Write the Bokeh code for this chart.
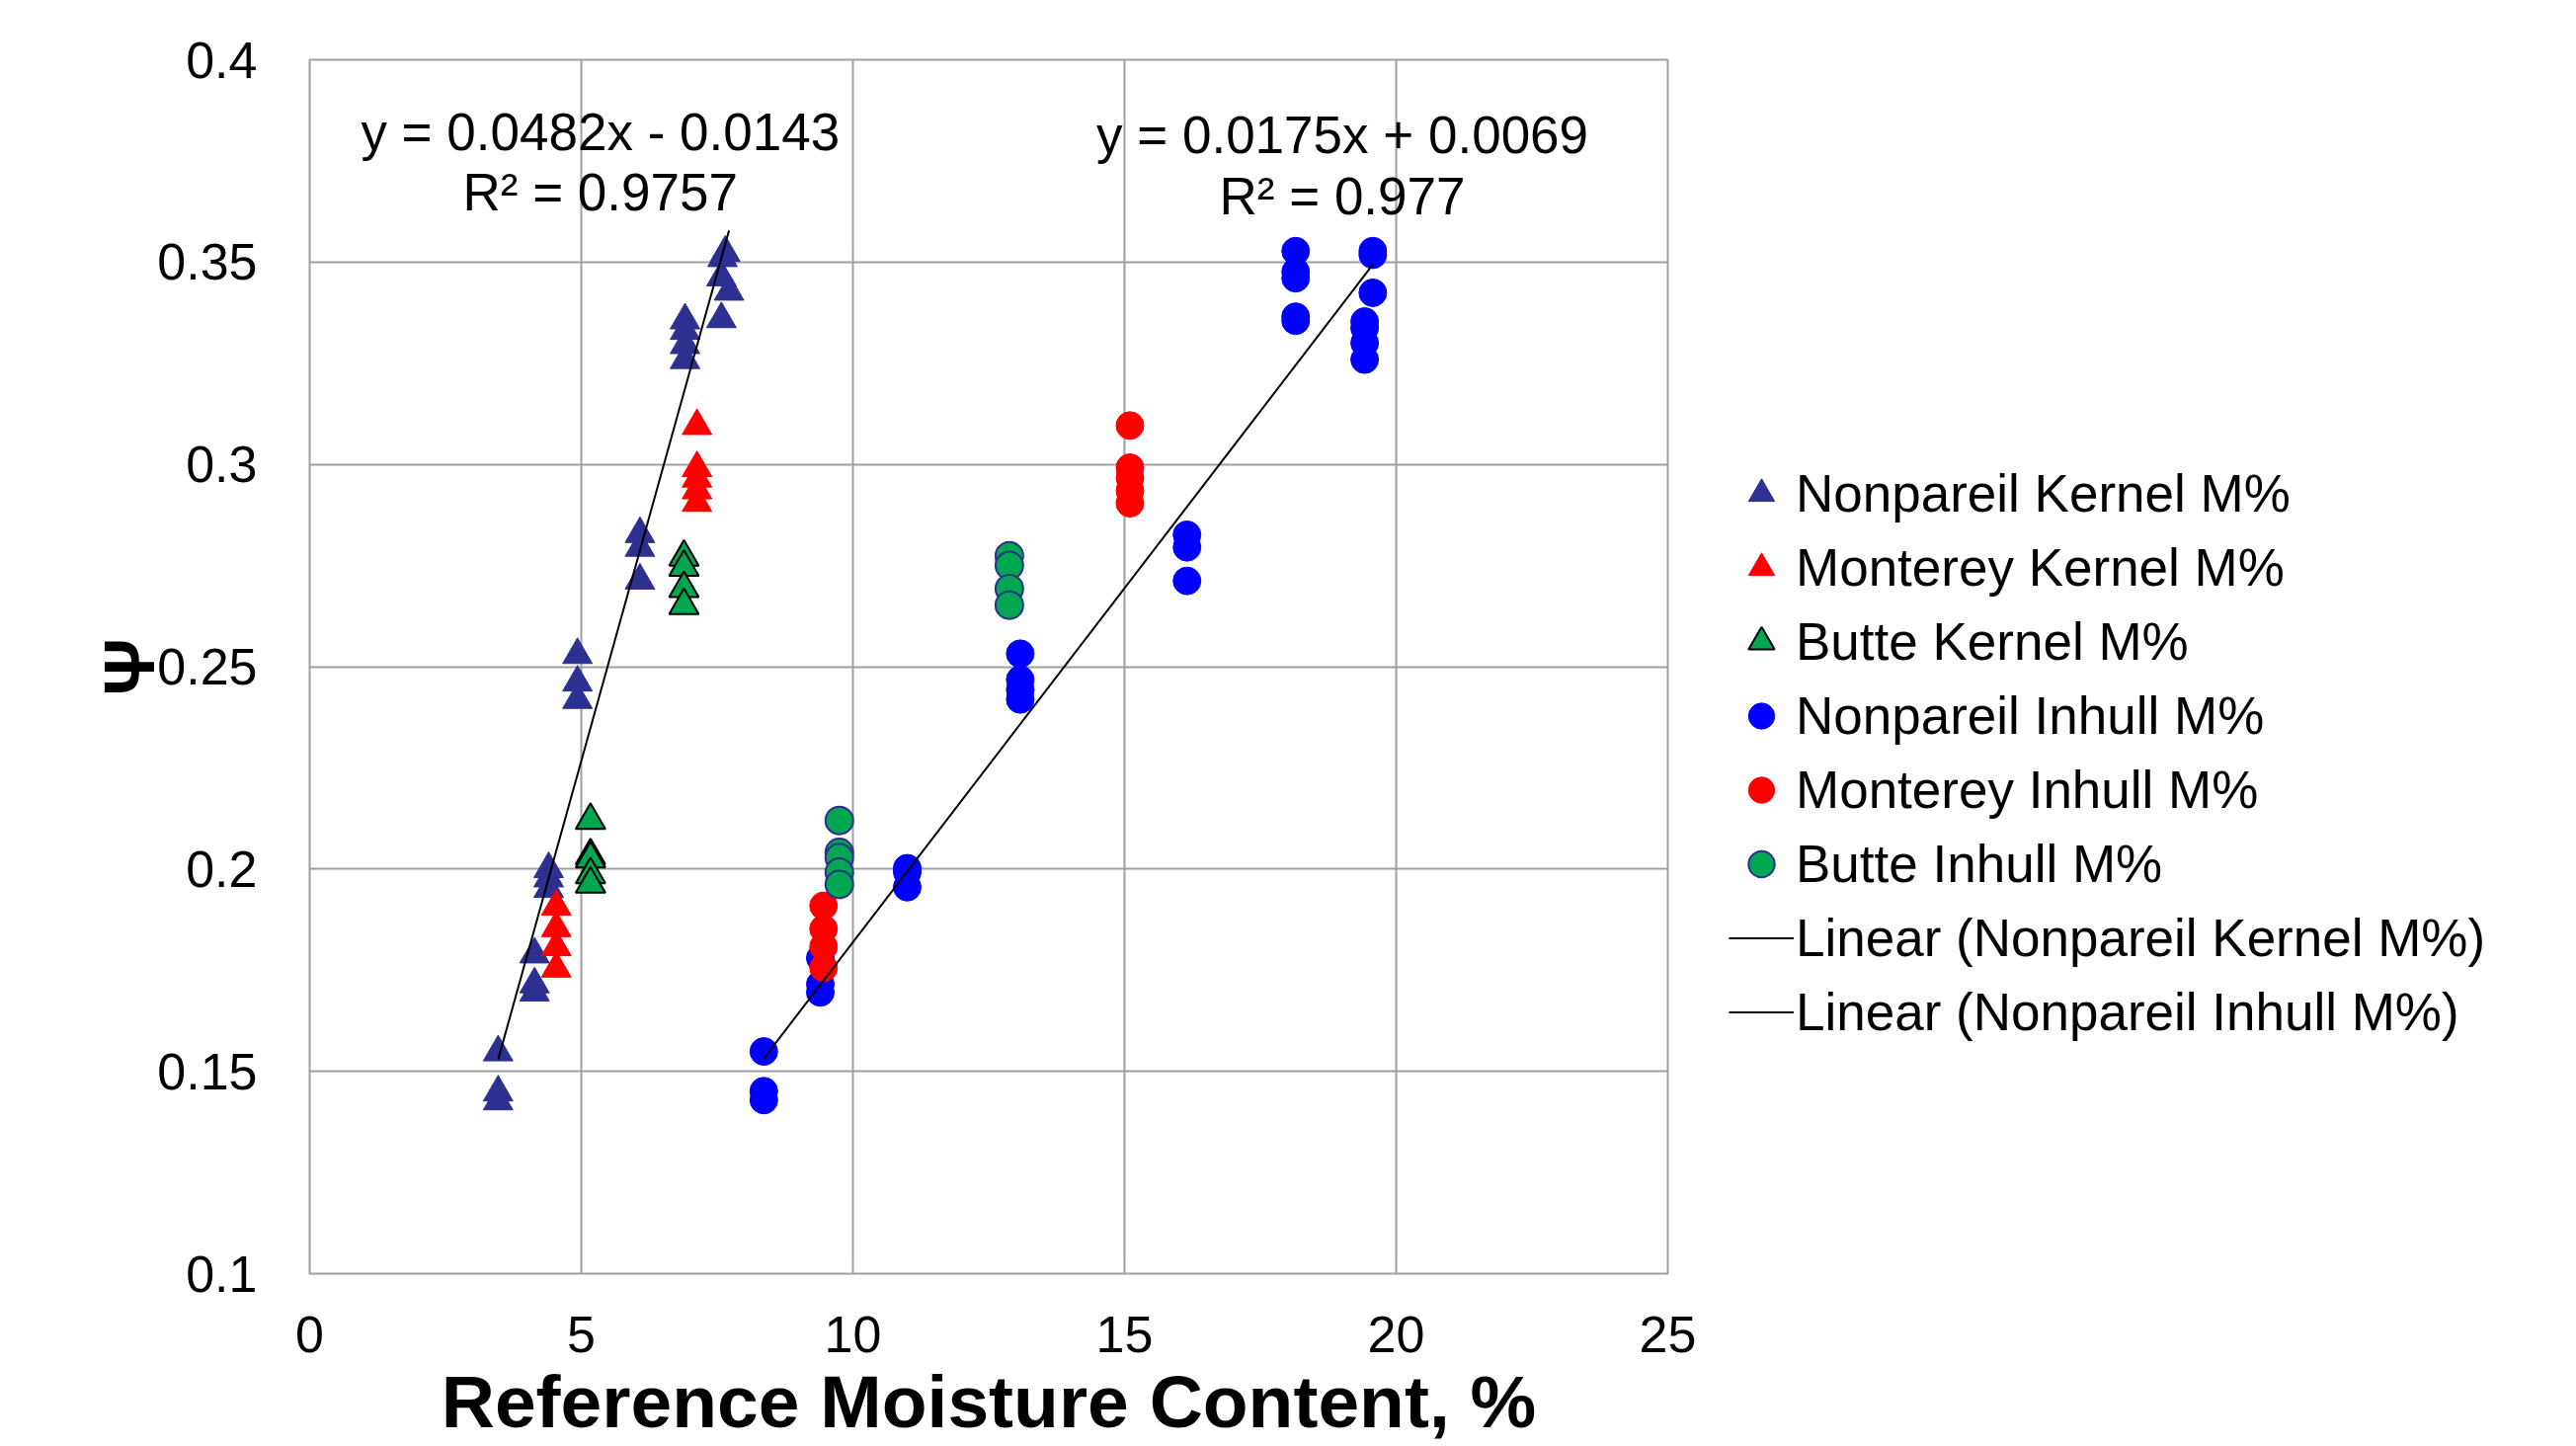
import numpy as np
from bokeh.plotting import figure
from bokeh.layouts import row
from bokeh.models import Legend, LegendItem, Label, FixedTicker
from bokeh.embed import file_html
from bokeh.resources import INLINE

# ---------------- data ----------------
npk_x = [3.47, 3.47, 3.47, 4.14, 4.14, 4.14, 4.40, 4.40, 4.40, 4.93, 4.93, 4.93,
         6.08, 6.08, 6.08, 6.91, 6.91, 6.91, 6.91, 7.65, 7.60, 7.58, 7.72, 7.58]
npk_y = [0.1547, 0.1448, 0.1426, 0.1789, 0.1715, 0.1695, 0.2000, 0.1977, 0.1951,
         0.2529, 0.2461, 0.2418, 0.2828, 0.2794, 0.2713, 0.3356, 0.3330, 0.3295,
         0.3258, 0.3523, 0.3510, 0.3462, 0.3427, 0.3359]

mok_x = [4.54, 4.54, 4.54, 4.54, 7.13, 7.13, 7.13, 7.13, 7.13]
mok_y = [0.1907, 0.1854, 0.1807, 0.1754, 0.3095, 0.2991, 0.2965, 0.2936, 0.2905]

bk_x = [5.17, 5.17, 5.17, 5.17, 5.17, 6.89, 6.89, 6.89, 6.89]
bk_y = [0.2120, 0.2033, 0.2025, 0.1986, 0.1963, 0.2771, 0.2746, 0.2693, 0.2651]

npi_x = [8.36, 8.36, 8.36, 9.40, 9.40, 9.40, 11.0, 11.0, 11.0,
         13.08, 13.08, 13.08, 13.08, 16.15, 16.15, 16.15,
         18.15, 18.15, 18.15, 18.15, 18.15, 19.57, 19.57, 19.57,
         19.42, 19.42, 19.42, 19.42]
npi_y = [0.1549, 0.1451, 0.1429, 0.1780, 0.1715, 0.1695, 0.2002, 0.1992, 0.1955,
         0.2532, 0.2468, 0.2443, 0.2419, 0.2826, 0.2795, 0.2712,
         0.3527, 0.3476, 0.3460, 0.3365, 0.3355, 0.3527, 0.3518, 0.3424,
         0.3353, 0.3337, 0.3300, 0.3259]

moi_x = [9.46, 9.46, 9.46, 9.46, 15.1, 15.1, 15.1, 15.1, 15.1]
moi_y = [0.1909, 0.1852, 0.1808, 0.1756, 0.3096, 0.2992, 0.2967, 0.2935, 0.2904]

bi_x = [9.75, 9.75, 9.75, 9.75, 9.75, 12.88, 12.88, 12.88, 12.88]
bi_y = [0.2120, 0.2041, 0.2028, 0.1992, 0.1962, 0.2774, 0.2750, 0.2693, 0.2652]

# trend line coefficients (from chart annotations)
k_slope, k_icpt, k_r2 = 0.0482, -0.0143, "0.9757"
i_slope, i_icpt, i_r2 = 0.0175, 0.0069, "0.977"

x_ticks = [0, 5, 10, 15, 20, 25]
y_ticks = [0.1, 0.15, 0.2, 0.25, 0.3, 0.35, 0.4]
y_tick_labels = ["0.1", "0.15", "0.2", "0.25", "0.3", "0.35", "0.4"]

series_labels = ["Nonpareil Kernel M%", "Monterey Kernel M%", "Butte Kernel M%",
                 "Nonpareil Inhull M%", "Monterey Inhull M%", "Butte Inhull M%",
                 "Linear (Nonpareil Kernel M%)", "Linear (Nonpareil Inhull M%)"]

# ---------------- styles ----------------
FONT = "Liberation Sans"
NAVY = "#2E3091"
styles = [
    dict(marker="triangle", size=30, fill_color=NAVY, line_color=NAVY),
    dict(marker="triangle", size=30, fill_color="#FF0000", line_color="#FF0000"),
    dict(marker="triangle", size=30, fill_color="#00A650", line_color="black", line_width=2),
    dict(marker="circle", size=28, fill_color="#0000FF", line_color="#0000FF"),
    dict(marker="circle", size=28, fill_color="#FF0000", line_color="#FF0000"),
    dict(marker="circle", size=28, fill_color="#00A650", line_color=NAVY, line_width=2),
]
series = [(npk_x, npk_y), (mok_x, mok_y), (bk_x, bk_y),
          (npi_x, npi_y), (moi_x, moi_y), (bi_x, bi_y)]

kx = np.array([min(npk_x), max(npk_x)])
ix = np.array([min(npi_x), max(npi_x)])
trends = [(kx, k_slope * kx + k_icpt), (ix, i_slope * ix + i_icpt)]

# ---------------- main figure ----------------
P_W = 1723
p = figure(width=P_W, height=1464, output_backend="svg", toolbar_location=None,
           x_range=(0, 25), y_range=(0.1, 0.4),
           min_border_left=313, min_border_right=35, min_border_top=60, min_border_bottom=175)
p.background_fill_color = "white"
p.border_fill_color = "white"
p.outline_line_color = "#A0A0A0"
p.outline_line_width = 2

p.xaxis.ticker = FixedTicker(ticks=x_ticks)
p.yaxis.ticker = FixedTicker(ticks=y_ticks)
p.yaxis.major_label_overrides = {t: l for t, l in zip(y_ticks, y_tick_labels)}
for ax in (p.xaxis[0], p.yaxis[0]):
    ax.axis_line_color = None
    ax.major_tick_line_color = None
    ax.minor_tick_line_color = None
    ax.major_label_text_font = FONT
    ax.major_label_text_font_size = "52px"
    ax.major_label_text_color = "black"
    ax.axis_label_text_font = FONT
    ax.axis_label_text_font_style = "bold"
    ax.axis_label_text_color = "black"
p.xaxis.major_label_standoff = 37
p.yaxis.major_label_standoff = 47
p.xaxis.axis_label = "Reference Moisture Content, %"
p.xaxis.axis_label_text_font_size = "75px"
p.xaxis.axis_label_standoff = 5
p.yaxis.axis_label = "Ψ"
p.yaxis.axis_label_text_font_size = "72px"
p.yaxis.axis_label_standoff = -15

p.xgrid.grid_line_color = "#A0A0A0"
p.ygrid.grid_line_color = "#A0A0A0"
p.xgrid.grid_line_width = 2
p.ygrid.grid_line_width = 2

for (sx, sy), st in zip(series, styles):
    p.scatter(sx, sy, **st)
for tx, ty in trends:
    p.line(tx, ty, line_color="black", line_width=2)

def fmt_eq(s, c):
    sign = "-" if c < 0 else "+"
    return f"y = {s}x {sign} {abs(c):.4f}"

eq_style = dict(text_font=FONT, text_font_size="53px", text_color="black",
                text_align="center", text_baseline="alphabetic")
p.add_layout(Label(x=5.35, y=0.3822, text=fmt_eq(k_slope, k_icpt), **eq_style))
p.add_layout(Label(x=5.35, y=0.3673, text=f"R² = {k_r2}", **eq_style))
p.add_layout(Label(x=19.01, y=0.3814, text=fmt_eq(i_slope, i_icpt), **eq_style))
p.add_layout(Label(x=19.01, y=0.3664, text=f"R² = {i_r2}", **eq_style))

# ---------------- legend panel ----------------
# (same series drawn in a side figure whose range excludes them; only the legend shows)
q = figure(width=2608 - P_W, height=1464, output_backend="svg", toolbar_location=None,
           x_range=(-2, -1), y_range=(-2, -1), x_axis_location=None, y_axis_location=None,
           min_border=0)
q.outline_line_color = None
q.background_fill_color = "white"
q.border_fill_color = "white"
q.xgrid.visible = False
q.ygrid.visible = False

renderers = [q.scatter(sx, sy, **st) for (sx, sy), st in zip(series, styles)]
renderers += [q.line(tx, ty, line_color="black", line_width=2) for tx, ty in trends]

legend = Legend(items=[LegendItem(label=l, renderers=[r]) for l, r in zip(series_labels, renderers)],
                location=(1750 - P_W, 227))
legend.label_text_font = FONT
legend.label_text_font_size = "53px"
legend.label_text_color = "black"
legend.glyph_width = 66
legend.glyph_height = 75
legend.label_height = 75
legend.spacing = 0
legend.padding = 0
legend.margin = 0
legend.label_standoff = 2
legend.border_line_color = None
legend.background_fill_alpha = 0
q.add_layout(legend)

open("out.html", "w").write(file_html(row(p, q), INLINE))
